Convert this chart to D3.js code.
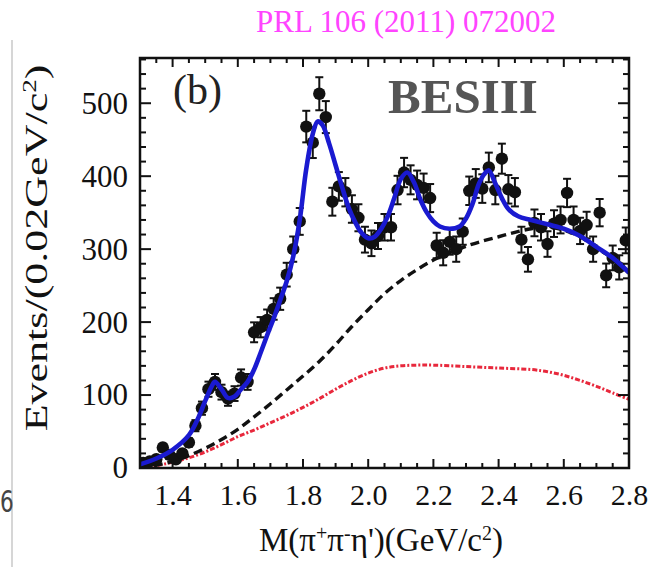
<!DOCTYPE html>
<html><head><meta charset="utf-8">
<script src="https://cdn.jsdelivr.net/npm/d3@7"></script>
<style>
body{margin:0;background:#fff;}
svg{display:block;}
text{font-family:"Liberation Serif","Times New Roman",serif;}
</style></head>
<body>
<svg id="c" width="651" height="567"></svg>
<script>
// ---- data ----
const massBins = [1.31,1.33,1.35,1.37,1.39,1.41,1.43,1.45,1.47,1.49,1.51,1.53,1.55,1.57,1.59,1.61,1.63,1.65,1.67,1.69,
  1.71,1.73,1.75,1.77,1.79,1.81,1.83,1.85,1.87,1.89,1.91,1.93,1.95,1.97,1.99,2.01,2.03,2.05,2.07,2.09,
  2.11,2.13,2.15,2.17,2.19,2.21,2.23,2.25,2.27,2.29,2.31,2.33,2.35,2.37,2.39,2.41,2.43,2.45,2.47,2.49,
  2.51,2.53,2.55,2.57,2.59,2.61,2.63,2.65,2.67,2.69,2.71,2.73,2.75,2.77,2.79];
const counts = [7,9,12,28,18,12,20,35,58,82,108,118,104,95,102,124,118,186,193,203,
  218,232,265,300,338,468,446,513,481,365,386,378,355,343,313,308,318,330,330,381,
  405,395,388,384,370,305,295,310,300,324,380,390,383,412,381,424,382,378,313,286,
  336,330,307,335,340,377,340,325,333,300,350,264,288,275,312];

const totalFitM = [1.30,1.35,1.40,1.45,1.48,1.50,1.52,1.53,1.55,1.57,1.59,1.61,1.63,1.65,1.67,1.69,1.71,1.73,1.75,1.77,1.79,1.81,1.83,1.845,1.86,1.88,1.90,1.92,1.94,1.96,1.98,2.00,2.02,2.04,2.06,2.08,2.10,2.12,2.14,2.16,2.18,2.20,2.22,2.25,2.28,2.30,2.32,2.34,2.36,2.37,2.39,2.41,2.43,2.46,2.50,2.55,2.60,2.65,2.70,2.75,2.80];
const totalFitV = [5,13,25,45,70,92,112,118,108,96,98,108,118,135,158,182,205,230,256,290,340,410,458,475,470,445,415,385,357,337,322,315,317,328,345,370,396,405,392,368,350,338,331,328,331,342,362,390,405,408,390,370,355,345,340,334,328,318,303,288,268];

const bkgM = [1.30,1.35,1.40,1.45,1.50,1.55,1.60,1.65,1.70,1.75,1.80,1.85,1.90,1.95,2.00,2.05,2.10,2.15,2.20,2.25,2.30,2.35,2.40,2.45,2.50,2.55,2.60,2.65,2.70,2.75,2.80];
const bkgV = [0,4,9,17,27,39,53,70,88,107,126,146,169,194,217,239,257,272,285,295,304,311,317,323,328,330,326,317,302,287,267];

const compM = [1.32,1.36,1.40,1.45,1.50,1.55,1.60,1.65,1.70,1.75,1.80,1.85,1.90,1.95,2.00,2.05,2.10,2.15,2.20,2.30,2.40,2.50,2.55,2.60,2.65,2.70,2.75,2.80];
const compV = [1,4,8,14,22,32,43,52,62,72,83,95,108,120,130,137,140,141,141,139,137,135,132,127,120,112,103,94];

const xTicks = [1.4,1.6,1.8,2.0,2.2,2.4,2.6,2.8];
const yTicks = [0,100,200,300,400,500];

// ---- layout ----
const svg = d3.select("#c");
const L=140, R=629, T=58, B=468;
const x = d3.scaleLinear().domain([1.3,2.8]).range([L,R]);
const y = d3.scaleLinear().domain([0,562]).range([B,T]);

// page artifacts
svg.append("line").attr("x1",12).attr("x2",12).attr("y1",40).attr("y2",567).attr("stroke","#c8c8c8").attr("stroke-width",1.5);
svg.append("text").attr("transform","translate(0,512) scale(0.72,1)").attr("font-size",30).attr("fill","#444")
  .style("font-family","'DejaVu Sans',sans-serif").text("6");

// header
svg.append("text").attr("x",406).attr("y",32).attr("text-anchor","middle")
  .attr("font-size",31).attr("fill","#ff44ff").text("PRL 106 (2011) 072002");

svg.append("clipPath").attr("id","pc").append("rect")
  .attr("x",L).attr("y",T).attr("width",R-L).attr("height",B-T);
const g = svg.append("g").attr("clip-path","url(#pc)");

const line = (ms,vs)=> d3.line().x(d=>x(d[0])).y(d=>y(d[1])).curve(d3.curveCatmullRom.alpha(0.5))(ms.map((m,i)=>[m,vs[i]]));

// component (red dash-dot)
g.append("path").attr("d",line(compM,compV)).attr("fill","none")
  .attr("stroke","#e8283c").attr("stroke-width",3).attr("stroke-dasharray","5,2,2,2");
// background (black dashed)
g.append("path").attr("d",line(bkgM,bkgV)).attr("fill","none")
  .attr("stroke","#111").attr("stroke-width",3.4).attr("stroke-dasharray","9,5");

// data points
const pts = g.append("g");
massBins.forEach((m,i)=>{
  const v=counts[i], e=Math.sqrt(v);
  const cx=x(m);
  pts.append("line").attr("x1",cx).attr("x2",cx).attr("y1",y(v+e)).attr("y2",y(Math.max(0,v-e)))
    .attr("stroke","#111").attr("stroke-width",2);
  [v+e, Math.max(0,v-e)].forEach(yy=>pts.append("line").attr("x1",cx-4).attr("x2",cx+4)
    .attr("y1",y(yy)).attr("y2",y(yy)).attr("stroke","#111").attr("stroke-width",2));
  pts.append("circle").attr("cx",cx).attr("cy",y(v)).attr("r",6.2).attr("fill","#111");
});

// total fit (blue)
g.append("path").attr("d",line(totalFitM,totalFitV)).attr("fill","none")
  .attr("stroke","#1a1ad0").attr("stroke-width",4.6);

// frame
svg.append("rect").attr("x",L).attr("y",T).attr("width",R-L).attr("height",B-T)
  .attr("fill","none").attr("stroke","#111").attr("stroke-width",2.5);

// ticks (inward on all sides)
const xMinor = d3.range(1.3,2.801,0.05);
const yMinor = d3.range(0,561,20);
const tk = svg.append("g").attr("stroke","#111").attr("stroke-width",2);
xMinor.forEach(v=>{
  const major = xTicks.some(t=>Math.abs(t-v)<1e-6);
  const len = major?9:5;
  tk.append("line").attr("x1",x(v)).attr("x2",x(v)).attr("y1",B).attr("y2",B-len);
  tk.append("line").attr("x1",x(v)).attr("x2",x(v)).attr("y1",T).attr("y2",T+len);
});
yMinor.forEach(v=>{
  const major = yTicks.includes(v);
  const len = major?11:6;
  tk.append("line").attr("x1",L).attr("x2",L+len).attr("y1",y(v)).attr("y2",y(v));
  tk.append("line").attr("x1",R).attr("x2",R-len).attr("y1",y(v)).attr("y2",y(v));
});

// axes labels via d3 axes (text only)
const xAxis = svg.append("g").attr("transform",`translate(0,${B})`)
  .call(d3.axisBottom(x).tickValues(xTicks).tickFormat(d3.format(".1f")).tickSize(0).tickPadding(16));
xAxis.select(".domain").remove();
xAxis.selectAll("text").attr("font-size",30).attr("fill","#111")
  .style("font-family","'Liberation Serif',serif");
const yAxis = svg.append("g").attr("transform",`translate(${L},0)`)
  .call(d3.axisLeft(y).tickValues(yTicks).tickSize(0).tickPadding(12));
yAxis.select(".domain").remove();
yAxis.selectAll("text").attr("font-size",31).attr("fill","#111")
  .style("font-family","'Liberation Serif',serif");

// titles
const xt = svg.append("text").attr("x",381).attr("y",551).attr("text-anchor","middle")
  .attr("font-size",33).attr("fill","#111");
xt.append("tspan").text("M(π");
xt.append("tspan").attr("baseline-shift","super").attr("font-size",20).text("+");
xt.append("tspan").text("π");
xt.append("tspan").attr("baseline-shift","super").attr("font-size",20).text("-");
xt.append("tspan").text("η')(GeV/c");
xt.append("tspan").attr("baseline-shift","super").attr("font-size",20).text("2");
xt.append("tspan").text(")");

const yt = svg.append("text").attr("transform","translate(47,248) rotate(-90) scale(1.42,1)")
  .attr("text-anchor","middle").attr("font-size",31).attr("fill","#111");
yt.append("tspan").text("Events/(0.02GeV/c");
yt.append("tspan").attr("baseline-shift","super").attr("font-size",19).text("2");
yt.append("tspan").text(")");

svg.append("text").attr("x",173).attr("y",104).attr("font-size",42).attr("fill","#222").text("(b)");
svg.append("text").attr("x",463).attr("y",113).attr("text-anchor","middle").attr("font-size",49)
  .attr("font-weight","bold").attr("fill","#555").text("BESIII");
</script>
</body></html>
